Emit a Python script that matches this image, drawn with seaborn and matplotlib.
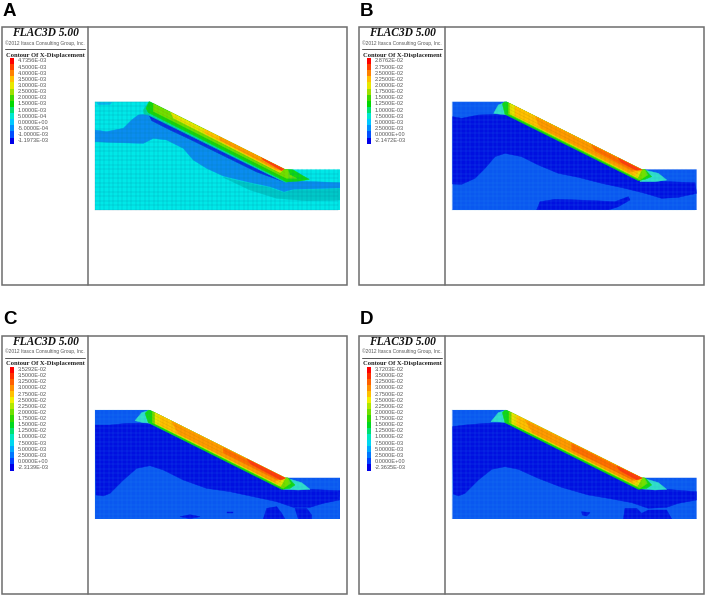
# -*- coding: utf-8 -*-
import numpy as np
import seaborn as sns
import matplotlib
matplotlib.use("Agg")
import matplotlib.pyplot as plt
from matplotlib.colors import ListedColormap
from matplotlib.patches import Polygon, Rectangle

sns.set_theme(style="white")
plt.rcParams["font.family"] = ["Liberation Sans", "DejaVu Sans"]

W, H = 706, 596

#Legend labels, top to bottom
labels_a = ["4.7356E-03", "4.5000E-03", "4.0000E-03", "3.5000E-03", "3.0000E-03", "2.5000E-03", "2.0000E-03",
            "1.5000E-03", "1.0000E-03", "5.0000E-04", "0.0000E+00", "-5.0000E-04", "-1.0000E-03", "-1.1973E-03"]
labels_b = ["2.8762E-02", "2.7500E-02", "2.5000E-02", "2.2500E-02", "2.0000E-02", "1.7500E-02", "1.5000E-02",
            "1.2500E-02", "1.0000E-02", "7.5000E-03", "5.0000E-03", "2.5000E-03", "0.0000E+00", "-2.1472E-03"]
labels_c = ["3.5292E-02", "3.5000E-02", "3.2500E-02", "3.0000E-02", "2.7500E-02", "2.5000E-02", "2.2500E-02",
            "2.0000E-02", "1.7500E-02", "1.5000E-02", "1.2500E-02", "1.0000E-02", "7.5000E-03", "5.0000E-03",
            "2.5000E-03", "0.0000E+00", "-2.3139E-03"]
labels_d = ["3.7203E-02", "3.5000E-02", "3.2500E-02", "3.0000E-02", "2.7500E-02", "2.5000E-02", "2.2500E-02",
            "2.0000E-02", "1.7500E-02", "1.5000E-02", "1.2500E-02", "1.0000E-02", "7.5000E-03", "5.0000E-03",
            "2.5000E-03", "0.0000E+00", "-2.3635E-03"]

colors_14 = ["#ff0000", "#ff4000", "#ff8000", "#ffc000", "#e8e800", "#a0e000", "#40d800",
             "#00d800", "#00e070", "#00e8d0", "#00c8ff", "#0090ff", "#0050ff", "#0000e8"]
colors_17 = ["#ff0000", "#ff3000", "#ff6000", "#ff9000", "#ffc000", "#f0f000", "#b0e800", "#70e000", "#30d800",
             "#00d820", "#00e070", "#00e8c0", "#00d8f0", "#00a8ff", "#0078ff", "#0040ff", "#0000e8"]

#Zones are traced in crop coordinates (3x zoom of the model area), painted in order
cyan, mid, deep, teal = "#00e8e8", "#0a8cf0", "#0a2de0", "#00c8c8"
blue, dark = "#0a58f0", "#0010e0"
fringe, green, lime, yellow, amber = "#30e0c8", "#10d810", "#70e000", "#e4e400", "#ffc000"
orange, hot, red = "#ff9a00", "#ff6e00", "#ff3c10"

zones_a = [
    (cyan, [(15, 35), (180, 35), (585, 238), (750, 238), (750, 360), (15, 360)]),
    ("#0ab4f0", [(20, 38), (65, 38), (60, 43), (25, 44)]),
    (mid, [(15, 120), (50, 125), (100, 115), (125, 90), (145, 75), (180, 72), (590, 272), (750, 278), (750, 294),
           (680, 296), (610, 298), (582, 305), (540, 290), (470, 275), (400, 258), (350, 235), (310, 210),
           (280, 175), (230, 150), (190, 145), (160, 160), (80, 158), (15, 155)]),
    (teal, [(400, 262), (470, 278), (540, 293), (582, 308), (610, 300), (750, 296), (750, 330), (650, 332), (560, 325), (480, 300)]),
    (deep, [(178, 77), (300, 133), (500, 235), (578, 274), (500, 246), (300, 148), (240, 120), (185, 92)]),
    ("#00d8a0", [(160, 60), (180, 30), (592, 235), (590, 278), (570, 270), (175, 75), (162, 72)]),
    (green, [(168, 55), (180, 30), (590, 232), (610, 240), (640, 258), (658, 268), (630, 273), (590, 276), (565, 263), (175, 68)]),
    (lime, [(190, 30), (590, 230), (600, 255), (620, 265), (590, 265), (565, 253), (190, 64)]),
    (yellow, [(235, 50), (590, 230), (570, 248), (250, 84)]),
    (amber, [(340, 105), (590, 230), (565, 244), (345, 130)]),
    (orange, [(385, 128), (590, 230), (562, 240), (390, 150)]),
    (red, [(505, 190), (590, 232), (575, 242), (520, 210)]),
]

zones_b = [
    (blue, [(22, 35), (185, 35), (590, 238), (755, 238), (755, 360), (22, 360)]),
    (dark, [(22, 80), (50, 85), (100, 75), (180, 72), (585, 272), (750, 278), (755, 310), (700, 322), (650, 325),
            (600, 310), (540, 295), (470, 280), (400, 262), (340, 250), (280, 225), (230, 200), (180, 190),
            (150, 200), (120, 235), (90, 265), (50, 283), (22, 282)]),
    (dark, [(275, 360), (285, 335), (330, 328), (400, 330), (470, 333), (510, 335), (550, 320), (555, 330), (520, 350), (490, 360)]),
    (fringe, [(146, 70), (160, 45), (185, 35), (190, 75), (160, 72)]),
    (fringe, [(590, 238), (640, 250), (665, 270), (630, 275), (585, 275)]),
    (green, [(172, 42), (185, 28), (600, 238), (620, 260), (600, 268), (580, 272), (180, 73)]),
    (lime, [(190, 28), (595, 230), (608, 255), (585, 270), (190, 72)]),
    (yellow, [(195, 28), (595, 230), (578, 264), (195, 72)]),
    (amber, [(210, 35), (595, 230), (568, 257), (210, 77)]),
    (orange, [(270, 79), (590, 238), (555, 247), (285, 112)]),
    (hot, [(440, 164), (590, 240), (560, 240), (450, 183)]),
    (red, [(520, 204), (592, 240), (572, 240), (528, 217)]),
]

zones_c = [
    (blue, [(15, 30), (180, 30), (585, 233), (750, 233), (750, 357), (15, 357)]),
    (dark, [(15, 75), (60, 75), (110, 70), (175, 70), (580, 265), (750, 272), (748, 300), (700, 310), (660, 322),
            (610, 322), (560, 305), (490, 290), (420, 275), (350, 265), (280, 240), (220, 210), (180, 197),
            (140, 205), (100, 240), (60, 280), (40, 288), (18, 285)]),
    (dark, [(270, 350), (300, 344), (330, 350), (300, 356)]),
    (dark, [(410, 335), (428, 335), (428, 340), (410, 340)]),
    (dark, [(520, 357), (530, 325), (560, 320), (575, 340), (585, 357)]),
    (dark, [(615, 325), (650, 325), (665, 345), (665, 357), (625, 357)]),
    (fringe, [(135, 62), (155, 38), (180, 30), (185, 70), (160, 68)]),
    (fringe, [(585, 233), (635, 248), (660, 268), (625, 270), (580, 268)]),
    (green, [(165, 40), (180, 26), (597, 235), (615, 255), (600, 265), (575, 268), (175, 68)]),
    (lime, [(187, 26), (590, 228), (602, 250), (580, 265), (187, 68)]),
    (yellow, [(195, 26), (590, 228), (572, 259), (195, 71)]),
    (amber, [(210, 30), (590, 228), (562, 252), (210, 76)]),
    (orange, [(245, 64), (585, 232), (552, 245), (265, 101)]),
    (hot, [(400, 143), (585, 236), (560, 238), (400, 158)]),
    (red, [(470, 176), (587, 234), (572, 240), (482, 192)]),
]

zones_d = [
    (blue, [(22, 30), (185, 30), (590, 233), (755, 233), (755, 357), (22, 357)]),
    (dark, [(22, 80), (60, 75), (120, 70), (180, 68), (585, 262), (755, 275), (755, 300), (700, 310), (665, 322),
            (610, 325), (560, 308), (490, 295), (430, 285), (350, 262), (280, 235), (220, 208), (180, 200),
            (140, 208), (100, 240), (60, 280), (40, 288), (25, 282)]),
    (dark, [(410, 335), (435, 338), (425, 348), (412, 345)]),
    (dark, [(535, 357), (540, 325), (575, 325), (590, 340), (610, 330), (665, 330), (680, 357)]),
    (fringe, [(138, 65), (160, 38), (185, 30), (190, 68), (165, 66)]),
    (fringe, [(590, 233), (640, 248), (665, 268), (630, 270), (580, 266)]),
    (green, [(172, 38), (185, 26), (602, 235), (620, 255), (605, 265), (580, 268), (180, 68)]),
    (lime, [(192, 26), (595, 228), (607, 250), (585, 265), (192, 68)]),
    (yellow, [(200, 26), (595, 228), (577, 259), (200, 71)]),
    (amber, [(215, 30), (595, 228), (567, 252), (215, 76)]),
    (orange, [(240, 60), (590, 232), (557, 245), (262, 97)]),
    (hot, [(380, 130), (590, 236), (560, 238), (380, 150)]),
    (red, [(515, 198), (592, 234), (575, 240), (525, 212)]),
]


def draw_panel(letter, px, py, crop_x, crop_y, labels, colors, zones, mesh_color, mesh_alpha):
    #frame and divider
    ax.add_patch(Rectangle((px + 2, py + 27), 345, 258, fill=False, ec="#6e6e6e", lw=1.1))
    ax.plot([px + 88, px + 88], [py + 27, py + 285], color="#6e6e6e", lw=1.1)
    ax.text(px + 3, py + 11.5, letter, fontsize=13.5, fontweight="bold", color="black", va="center")

    #legend text
    ax.text(px + 45, py + 33.5, "FLAC3D 5.00", family="Liberation Serif", style="italic", fontweight="bold",
            fontsize=8.3, color="#111111", ha="center", va="center")
    ax.text(px + 44.5, py + 43, "©2012 Itasca Consulting Group, Inc.", fontsize=3.5, color="#555555", ha="center", va="center")
    ax.plot([px + 5, px + 85], [py + 49, py + 49], color="#555555", lw=0.7)
    ax.text(px + 45.5, py + 55, "Contour Of X-Displacement", family="Liberation Serif", fontweight="bold",
            fontsize=4.7, color="#222222", ha="center", va="center")

    n = len(labels)
    top, bottom = py + 58, py + 58 + 6.12 * n
    for lab, y in zip(labels, np.linspace(top + 3, bottom - 3, n)):
        ax.text(px + 17.5, y, lab, fontsize=4.1, color="#555555", va="center")

    #colour swatches
    cax = fig.add_axes([(px + 9.5) / W, 1 - bottom / H, 4.5 / W, (bottom - top) / H])
    sns.heatmap(np.arange(n).reshape(-1, 1), cmap=ListedColormap(colors), cbar=False, ax=cax,
                xticklabels=False, yticklabels=False)

    #model
    to_px = lambda pts: [(crop_x + u / 3, crop_y + v / 3) for u, v in pts]
    outline = Polygon(to_px(zones[0][1]), closed=True, fc="none", ec="none")
    ax.add_patch(outline)
    for color, pts in zones:
        patch = Polygon(to_px(pts), closed=True, fc=color, ec=color, lw=0.3)
        ax.add_patch(patch)
        patch.set_clip_path(outline)

    #mesh: straight rows and columns, the slope band gets its own faint warm lines
    (x0, y0), (x1, y1), (x2, y2), (x3, _), (_, y4), _ = to_px(zones[0][1])
    line = dict(color=mesh_color, lw=0.35, alpha=mesh_alpha)
    band = dict(color="#8a6a00", lw=0.35, alpha=0.22)
    band_depth = 13
    us = np.arange(x0, x3 + 0.1, 4.5)
    surf = np.interp(us, [x0, x1, x2, x3], [y0, y1, y2, y2])
    on_slope = (us > x1) & (us < x2)
    for u, s, sl in zip(us, surf, on_slope):
        if sl:
            ax.plot([u, u], [s, s + band_depth], **band)
            ax.plot([u, u], [s + band_depth, y4], **line)
        else:
            ax.plot([u, u], [s, y4], **line)
    for v in np.arange(y0, y4, 4.5):
        keep = np.where(on_slope, surf + band_depth <= v, surf <= v)
        #one line per unbroken stretch, so nothing crosses the band
        start = 0
        for stop in np.append(np.where(np.diff(keep.astype(int)) != 0)[0] + 1, len(us)):
            if keep[start]:
                ax.plot(us[start:stop], np.full(stop - start, v), **line)
            start = stop
    for d in [3.2, 6.4, 9.6]:
        ax.plot([x1, x2], [y1 + d, y2 + d], **band)


fig = plt.figure(figsize=(W / 100, H / 100), dpi=100)
ax = fig.add_axes([0, 0, 1, 1])
ax.set_xlim(0, W)
ax.set_ylim(H, 0)
ax.axis("off")

draw_panel("A", 0, 0, 90, 90, labels_a, colors_14, zones_a, "#007a9a", 0.4)
draw_panel("B", 357, 0, 445, 90, labels_b, colors_14, zones_b, "#2f9cf0", 0.3)
draw_panel("C", 0, 308.5, 90, 400, labels_c, colors_17, zones_c, "#2f9cf0", 0.3)
draw_panel("D", 357, 308.5, 445, 400, labels_d, colors_17, zones_d, "#2f9cf0", 0.3)

fig.savefig("out.png", dpi=100)
